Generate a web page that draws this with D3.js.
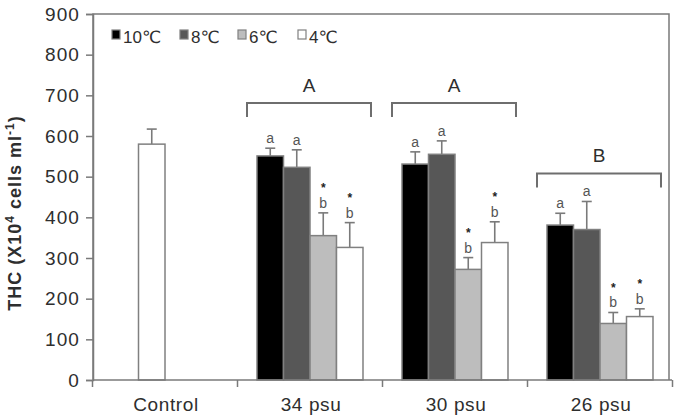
<!DOCTYPE html>
<html>
<head>
<meta charset="utf-8">
<script src="https://cdn.jsdelivr.net/npm/d3@7"></script>
<style>
  html, body { margin: 0; padding: 0; background: #fff; }
  svg { display: block; }
  text { font-family: 'Liberation Sans', Arial, 'DejaVu Sans', sans-serif; }
</style>
</head>
<body>
<svg id="chart" width="675" height="417"></svg>
<script>
// ---- data ----
const categories = ["Control", "34 psu", "30 psu", "26 psu"];
const series = ["10℃", "8℃", "6℃", "4℃"];
const seriesColors = ["#000000", "#575757", "#bdbdbd", "#ffffff"];
const controlValue = 580;
const controlError = 37;
const means34 = [551, 523, 355, 326];
const means30 = [531, 555, 272, 338];
const means26 = [381, 370, 139, 156];
const errors34 = [19, 43, 56, 61];
const errors30 = [30, 33, 29, 51];
const errors26 = [29, 69, 27, 19];
const letters34 = ["a", "a", "b", "b"];
const letters30 = ["a", "a", "b", "b"];
const letters26 = ["a", "a", "b", "b"];
const stars = [false, false, true, true];
const groupLetters = ["A", "A", "B"];
const bracketLevels = [681, 681, 508];
const yTicks = [0, 100, 200, 300, 400, 500, 600, 700, 800, 900];

// ---- layout ----
const svg = d3.select("#chart");
const pLeft = 93, pRight = 669, pTop = 14, pBottom = 380;
const axisColor = "#7a7a7a";
const textColor = "#2e2e2e";

const y = d3.scaleLinear().domain([0, 900]).range([pBottom, pTop]);
const x0 = d3.scaleBand().domain(categories).range([92.5, 672.5]).padding(0);
const x1 = d3.scaleBand().domain(series).range([0, x0.bandwidth()]).paddingInner(0).paddingOuter(0.736);

const groups = [
  {cat: "34 psu", means: means34, errs: errors34, letters: letters34},
  {cat: "30 psu", means: means30, errs: errors30, letters: letters30},
  {cat: "26 psu", means: means26, errs: errors26, letters: letters26}
];

const bars = [];
bars.push({cat: "Control", s: series[1], v: controlValue, e: controlError, fill: "#ffffff", letter: null, star: false});
groups.forEach(g => {
  series.forEach((s, i) => {
    bars.push({cat: g.cat, s: s, v: g.means[i], e: g.errs[i], fill: seriesColors[i], letter: g.letters[i], star: stars[i]});
  });
});

// frame
svg.append("path")
  .attr("d", `M${pLeft},${pBottom}V${pTop}H${pRight}V${pBottom}`)
  .attr("fill", "none").attr("stroke", axisColor).attr("stroke-width", 1.5);

// error bars (drawn behind bars)
const cap = 10;
bars.forEach(b => {
  const cx = x0(b.cat) + x1(b.s) + x1.bandwidth() / 2;
  svg.append("line").attr("x1", cx).attr("x2", cx).attr("y1", y(b.v)).attr("y2", y(b.v + b.e))
    .attr("stroke", axisColor).attr("stroke-width", 1.6);
  svg.append("line").attr("x1", cx - cap / 2).attr("x2", cx + cap / 2).attr("y1", y(b.v + b.e)).attr("y2", y(b.v + b.e))
    .attr("stroke", axisColor).attr("stroke-width", 1.6);
});

// bars
svg.selectAll("rect.bar").data(bars).enter().append("rect")
  .attr("class", "bar")
  .attr("x", d => x0(d.cat) + x1(d.s))
  .attr("width", x1.bandwidth())
  .attr("y", d => y(d.v))
  .attr("height", d => y(0) - y(d.v))
  .attr("fill", d => d.fill)
  .attr("stroke", "#808080")
  .attr("stroke-width", 1.5);

// letters and stars
bars.filter(b => b.letter).forEach(b => {
  const cx = x0(b.cat) + x1(b.s) + x1.bandwidth() / 2;
  const ty = y(b.v + b.e) - 5;
  svg.append("text").attr("x", cx).attr("y", ty).attr("text-anchor", "middle")
    .attr("font-size", 14).attr("fill", "#555").text(b.letter);
  if (b.star) {
    svg.append("text").attr("x", cx).attr("y", ty - 15.5).attr("text-anchor", "middle")
      .attr("font-size", 12).attr("font-weight", "bold").attr("fill", "#222").text("*");
  }
});

// brackets
groups.forEach((g, i) => {
  const gx0 = x0(g.cat) + x1(series[0]) - 10;
  const gx1 = x0(g.cat) + x1(series[3]) + x1.bandwidth() + 8;
  const by = y(bracketLevels[i]);
  svg.append("path").attr("d", `M${gx0},${by + 14}V${by}H${gx1}V${by + 14}`)
    .attr("fill", "none").attr("stroke", "#6e6e6e").attr("stroke-width", 2);
  svg.append("text").attr("x", (gx0 + gx1) / 2).attr("y", by - 11).attr("text-anchor", "middle")
    .attr("font-size", 19).attr("fill", textColor).text(groupLetters[i]);
});

// y axis
const yAxis = d3.axisLeft(y).tickValues(yTicks).tickSize(7).tickPadding(6).tickFormat(d3.format("d"));
const gy = svg.append("g").attr("transform", `translate(${pLeft},0)`).call(yAxis);
gy.select(".domain").attr("stroke", axisColor).attr("stroke-width", 1.5);
gy.selectAll(".tick line").attr("stroke", axisColor).attr("stroke-width", 1.5);
gy.selectAll(".tick text").attr("font-size", 19).attr("letter-spacing", 1.1).attr("fill", textColor)
  .attr("font-family", "'Liberation Sans', Arial, sans-serif");

// x axis: ticks at category boundaries
const boundaries = categories.map(c => x0(c)).concat([x0(categories[categories.length - 1]) + x0.bandwidth()]);
svg.append("line").attr("x1", pLeft).attr("x2", pRight + 3).attr("y1", pBottom).attr("y2", pBottom)
  .attr("stroke", axisColor).attr("stroke-width", 1.5);
boundaries.forEach(bx => {
  svg.append("line").attr("x1", bx).attr("x2", bx).attr("y1", pBottom).attr("y2", pBottom + 7)
    .attr("stroke", axisColor).attr("stroke-width", 1.5);
});
categories.forEach(c => {
  svg.append("text").attr("x", x0(c) + x0.bandwidth() / 2 + 1).attr("y", 411).attr("text-anchor", "middle")
    .attr("font-size", 19).attr("letter-spacing", 0.6).attr("fill", textColor).text(c);
});

// y title
const yt = svg.append("text").attr("transform", `translate(21,${(pTop + pBottom) / 2 + 16}) rotate(-90)`)
  .attr("text-anchor", "middle").attr("font-size", 18).attr("font-weight", "bold")
  .attr("letter-spacing", 1.0).attr("fill", textColor);
yt.append("tspan").text("THC (X10");
yt.append("tspan").attr("dy", -7).attr("font-size", 12).text("4");
yt.append("tspan").attr("dy", 7).text(" cells ml");
yt.append("tspan").attr("dy", -7).attr("font-size", 12).text("-1");
yt.append("tspan").attr("dy", 7).text(")");

// legend
const legendX = [112, 180, 238, 298];
series.forEach((s, i) => {
  svg.append("rect").attr("x", legendX[i]).attr("y", 30).attr("width", 8).attr("height", 9)
    .attr("fill", seriesColors[i]).attr("stroke", "#808080").attr("stroke-width", 1.2);
  svg.append("text").attr("x", legendX[i] + 11).attr("y", 43).attr("font-size", 17)
    .attr("fill", textColor).text(s);
});
</script>
</body>
</html>
